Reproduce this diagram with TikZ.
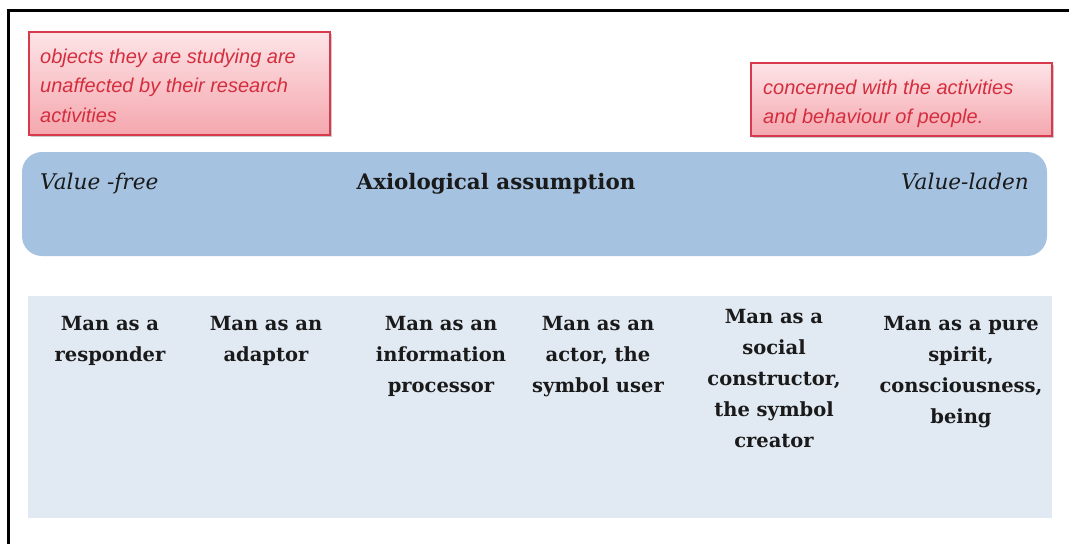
\documentclass[tikz,border=0pt]{standalone}
\usepackage{fontspec}
\setmainfont{DejaVu Serif}
\newfontfamily\notefont{Liberation Sans}
\usetikzlibrary{shadows}
\definecolor{panelblue}{HTML}{E1E9F3}
\definecolor{bandblue}{HTML}{A5C2E1}
\definecolor{notetop}{HTML}{FDE4E7}
\definecolor{notebottom}{HTML}{F4A7AE}
\definecolor{noteedge}{HTML}{D9394C}
\definecolor{notetext}{HTML}{D42E3E}
\definecolor{ink}{HTML}{1A1A1A}
\tikzset{
  notebox/.style={draw=noteedge, line width=1.4pt, top color=notetop, bottom color=notebottom,
    drop shadow={shadow xshift=2pt, shadow yshift=-2pt, opacity=0.35, fill=black!60}},
  % multi-line nodes: the base anchor sits on the last line
  notetxt/.style={anchor=base west, inner sep=0pt, align=left, text=notetext,
    font=\notefont\itshape\fontsize{20}{29.5}\selectfont},
  headtxt/.style={anchor=base, inner sep=0pt, text=ink},
  mantxt/.style={anchor=base, inner sep=0pt, align=center, text=ink,
    font=\bfseries\fontsize{19.5}{31}\selectfont},
}
\begin{document}
\begin{tikzpicture}[x=1pt, y=-1pt]
\useasboundingbox (0,0) rectangle (1069,544);
% outer frame
\draw[line width=3pt] (8,544) -- (8,10) -- (1069,10);
% lower panel
\fill[panelblue] (28,296) rectangle (1052,518);
% axiological band
\fill[bandblue, rounded corners=20pt] (22,152) rectangle (1047,256);
% notes
\path[notebox] (29,32) rectangle (330,135);
\path[notebox] (751,63) rectangle (1052,136);
\node[notetxt] (n1) at (40,122) {objects they are studying are\\unaffected by their research\\activities};
\node[notetxt] (n2) at (763,123.5) {concerned with the activities\\and behaviour of people.};
% band labels
\node[headtxt, anchor=base west, font=\itshape\fontsize{21.6}{24}\selectfont] (vf) at (40,189) {Value -free};
\node[headtxt, font=\bfseries\fontsize{21.4}{24}\selectfont] (ax) at (496,189) {Axiological assumption};
\node[headtxt, anchor=base east, font=\itshape\fontsize{21.6}{24}\selectfont] (vl) at (1029,189) {Value-laden};
% views of man
\node[mantxt] (m1) at (110,361) {Man as a\\responder};
\node[mantxt] (m2) at (266,361) {Man as an\\adaptor};
\node[mantxt] (m3) at (441,392) {Man as an\\information\\processor};
\node[mantxt] (m4) at (598,392) {Man as an\\actor, the\\symbol user};
\node[mantxt] (m5) at (774,447) {Man as a\\social\\constructor,\\the symbol\\creator};
\node[mantxt] (m6) at (961,423) {Man as a pure\\spirit,\\consciousness,\\being};
\end{tikzpicture}
\end{document}
